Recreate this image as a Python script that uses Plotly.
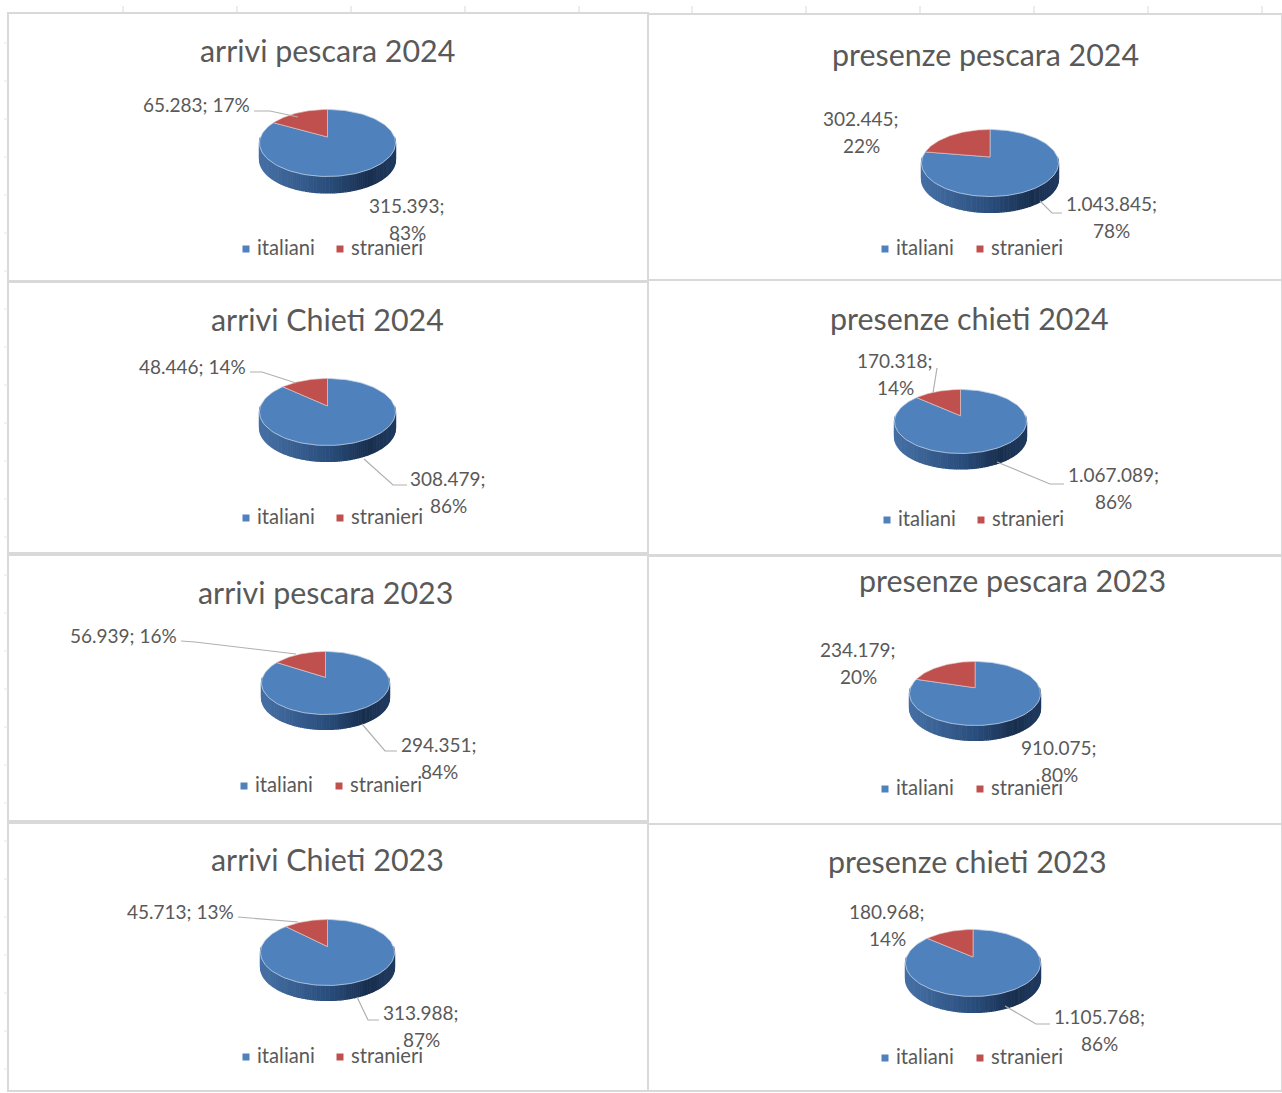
import numpy as np
import plotly.graph_objects as go

# ---- data ----
titles = ["arrivi pescara 2024", "presenze pescara 2024", "arrivi Chieti 2024", "presenze chieti 2024",
          "arrivi pescara 2023", "presenze pescara 2023", "arrivi Chieti 2023", "presenze chieti 2023"]
series_names = ["italiani", "stranieri"]
italiani = [315393, 1043845, 308479, 1067089, 294351, 910075, 313988, 1105768]
stranieri = [65283, 302445, 48446, 170318, 56939, 234179, 45713, 180968]

# ---- layout (pixels of the page) ----
W, H = 1282, 1093
pie_cx = [327.5, 990, 327.5, 960.5, 325.5, 975, 327.5, 973]
pie_top = [109.5, 129.5, 378.5, 389.5, 651.5, 661.5, 919.5, 929.5]
pie_a = [68, 68.5, 68, 66, 64, 65.5, 67, 67.5]
pie_b = [33.5, 33.5, 33.5, 32, 31.5, 32, 33, 33.5]
pie_depth = [16.5, 16, 16, 15.5, 15, 15, 15, 16]
title_pos = [(327, 50), (985, 54), (327, 319), (969, 318), (325, 592), (1012, 580), (327, 859), (967, 861)]
label_r = [(196, 104), (861, 118), (192, 366), (895, 360), (123, 635), (858, 649), (180, 911), (887, 911)]
label_b = [(407, 205), (1111, 203), (448, 478), (1113, 474), (439, 744), (1059, 747), (421, 1012), (1099, 1016)]
legend_pos = [(246, 340, 247), (885, 980, 247), (246, 340, 516), (887, 981, 518),
              (244, 339, 784), (885, 980, 787), (246, 340, 1055), (885, 980, 1056)]
red_one_line = [True, False, True, False, True, False, True, False]
leaders = [
    [(254, 111), (270, 111), (298, 117)], [(1062, 213), (1052, 213), (1040, 201)],
    [(250, 372), (262, 372), (296, 383)], [(364, 459), (393, 485), (407, 485)],
    [(937, 368), (935, 380), (933, 393)], [(1064, 484), (1050, 484), (997, 462)],
    [(181, 641), (195, 642), (296, 654)], [(397, 751), (385, 751), (362, 724)],
    [(238, 917), (250, 918), (298, 922)], [(379, 1020), (368, 1020), (357, 997)],
    [(1050, 1024), (1036, 1024), (1005, 1006)],
]
panels = [(8, 13, 648, 281), (8, 282, 648, 553), (8, 555, 648, 821), (8, 823, 648, 1091),
          (648, 14, 1282, 280), (648, 280, 1282, 555), (648, 556, 1282, 824), (648, 824, 1282, 1091)]

BLUE, RED = "#4f81bd", "#c0504d"
TXT = "#595959"
FONT = "Lato"
APEX_UP = 0.18
fig = go.Figure()


def fmt(v):
    return f"{v:,}".replace(",", ".")


def rim(theta, cx, cy, a, b):
    """Rim points of the tilted disc for angles clockwise from 12 o'clock."""
    dx, dy = a * np.sin(theta), -b * np.cos(theta)
    u = (dx / a) ** 2 + (dy / b) ** 2
    v = 2 * dy * (-APEX_UP * b) / b ** 2
    w = APEX_UP ** 2 - 1
    s = (-v + np.sqrt(v ** 2 - 4 * u * w)) / (2 * u)
    return cx + s * dx, cy - APEX_UP * b + s * dy


def side_colour(f):
    stops = [(0, (70, 112, 165)), (0.5, (42, 78, 125)), (0.8, (24, 46, 78)), (1, (32, 58, 95))]
    for (p0, c0), (p1, c1) in zip(stops, stops[1:]):
        if f <= p1:
            t = (f - p0) / (p1 - p0)
            return "rgb(%d,%d,%d)" % tuple(round(c0[k] + t * (c1[k] - c0[k])) for k in range(3))
    return "rgb(32,58,95)"


def poly(xs, ys, fill, line=None, lw=0.0):
    fig.add_trace(go.Scatter(x=xs, y=ys, mode="lines", fill="toself", fillcolor=fill,
                             line=dict(color=line or fill, width=lw), hoverinfo="skip", showlegend=False))


def text(x, y, s, size, anchor="center"):
    fig.add_annotation(x=x, y=y, text=s, showarrow=False, xanchor=anchor, yanchor="middle",
                       font=dict(family=FONT, size=size, color=TXT))


# panels
shapes = []
for x0, y0, x1, y1 in panels:
    shapes.append(dict(type="rect", x0=x0, y0=y0, x1=x1, y1=y1, line=dict(color="#d9d9d9", width=2),
                       fillcolor="white", layer="below"))
for x in [123, 237, 351, 465, 579, 692, 806, 920, 1034, 1148, 1262]:
    shapes.append(dict(type="line", x0=x, x1=x, y0=6, y1=13, line=dict(color="#d9d9d9", width=1), layer="below"))
for y in range(43, 1085, 38):
    shapes.append(dict(type="line", x0=4, x1=8, y0=y, y1=y, line=dict(color="#e4e4e4", width=1), layer="below"))

for i, title in enumerate(titles):
    it, st = italiani[i], stranieri[i]
    total = it + st
    cx, a, b, d = pie_cx[i], pie_a[i], pie_b[i], pie_depth[i]
    cy = pie_top[i] + b
    # side wall as narrow strips, drawn left to right so each covers the previous seam
    n = 110
    edges = np.linspace(3 * np.pi / 2, np.pi / 2, n + 1)
    for k in range(n):
        th = np.linspace(edges[k], edges[k + 1], 3)
        px, py = rim(th, cx, cy, a, b)
        xs = list(px) + list(px[::-1])
        ys = list(py) + list((py + d)[::-1])
        f = (px.mean() - (cx - a)) / (2 * a)
        poly(xs, ys, side_colour(f), lw=1.2)
    # top face: the share of each series sets the angle of its slice
    split = 2 * np.pi * it / total
    apx, apy = cx, cy - APEX_UP * b
    th = np.linspace(0, split, 120)
    px, py = rim(th, cx, cy, a, b)
    poly([apx] + list(px) + [apx], [apy] + list(py) + [apy], BLUE, "#c3d3e6", 0.8)
    th = np.linspace(split, 2 * np.pi, 60)
    px, py = rim(th, cx, cy, a, b)
    poly([apx] + list(px) + [apx], [apy] + list(py) + [apy], RED, "#e3c4c3", 0.6)

    # texts
    text(title_pos[i][0], title_pos[i][1], title, 30.4)
    pr = round(100 * st / total)
    pi_ = round(100 * it / total)
    rx, ry = label_r[i]
    if red_one_line[i]:
        text(rx, ry, f"{fmt(st)}; {pr}%", 19)
    else:
        text(rx, ry, f"{fmt(st)};", 19)
        text(rx, ry + 27, f"{pr}%", 19)
    bx, by = label_b[i]
    text(bx, by, f"{fmt(it)};", 19)
    text(bx, by + 27, f"{pi_}%", 19)
    # legend
    mx0, mx1, ly = legend_pos[i]
    for mx, name, col in ((mx0, series_names[0], BLUE), (mx1, series_names[1], RED)):
        fig.add_trace(go.Scatter(x=[mx], y=[ly + 2], mode="markers", hoverinfo="skip", showlegend=False,
                                 marker=dict(symbol="square", size=7, color=col)))
        text(mx + 9, ly, name, 20.2, "left")

for pts in leaders:
    fig.add_trace(go.Scatter(x=[p[0] for p in pts], y=[p[1] for p in pts], mode="lines", hoverinfo="skip",
                             showlegend=False, line=dict(color="#b0b0b0", width=1.2)))

fig.update_layout(width=W, height=H, margin=dict(l=0, r=0, t=0, b=0), paper_bgcolor="white", plot_bgcolor="white",
                  shapes=shapes, showlegend=False,
                  xaxis=dict(range=[0, W], visible=False, fixedrange=True),
                  yaxis=dict(range=[H, 0], visible=False, fixedrange=True))
fig.write_html("out.html", config=dict(displayModeBar=False),
               post_script="document.body.style.margin='0';document.body.style.overflow='hidden';")
